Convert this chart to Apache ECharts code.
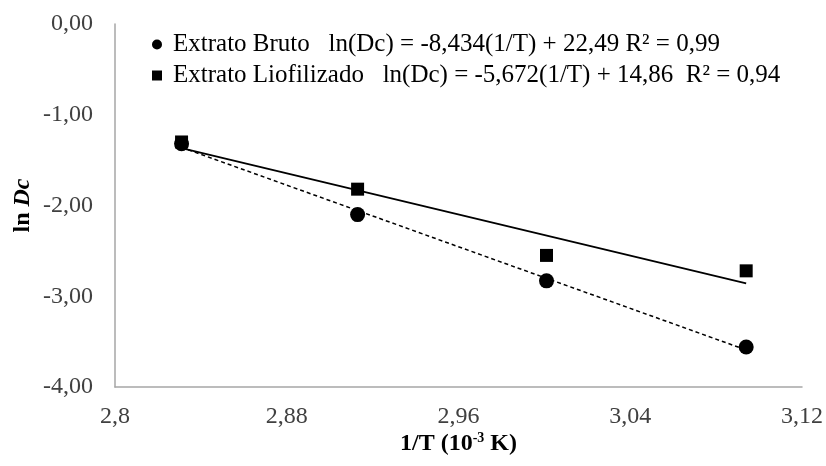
<!DOCTYPE html>
<html>
<head>
<meta charset="utf-8">
<script src="https://cdn.jsdelivr.net/npm/echarts@6/dist/echarts.min.js"></script>
<style>html,body{margin:0;padding:0;background:#fff}#c{width:826px;height:466px}</style>
</head>
<body>
<div id="c"></div>
<script>
// 1/T (10^-3 K^-1)
var invT = [2.831, 2.913, 3.001, 3.094];
var bruto = [-1.32, -2.10, -2.83, -3.56];
var liofilizado = [-1.30, -1.82, -2.55, -2.72];
var seriesNames = [
  'Extrato Bruto   ln(Dc) = -8,434(1/T) + 22,49 R\u00b2 = 0,99',
  'Extrato Liofilizado   ln(Dc) = -5,672(1/T) + 14,86  R\u00b2 = 0,94'
];
var xTicks = {min: 2.8, max: 3.12, interval: 0.08};
var yTicks = {min: -4, max: 0, interval: 1};

function fit(xs, ys) {
  var n = xs.length, mx = 0, my = 0;
  for (var i = 0; i < n; i++) { mx += xs[i]; my += ys[i]; }
  mx /= n; my /= n;
  var sxy = 0, sxx = 0;
  for (var i = 0; i < n; i++) { sxy += (xs[i]-mx)*(ys[i]-my); sxx += (xs[i]-mx)*(xs[i]-mx); }
  var b = sxy / sxx, a = my - b * mx;
  var x0 = Math.min.apply(null, xs), x1 = Math.max.apply(null, xs);
  return [[x0, a + b*x0], [x1, a + b*x1]];
}
function pairs(xs, ys) { return xs.map(function (x, i) { return [x, ys[i]]; }); }

var serif = '"Liberation Serif", "Times New Roman", serif';
var chart = echarts.init(document.getElementById('c'), null, {renderer: 'canvas'});
chart.setOption({
  animation: false,
  backgroundColor: '#fff',
  grid: {left: 115, right: 23, top: 24, bottom: 79},
  legend: {
    data: [{name: seriesNames[0], icon: 'circle'}, {name: seriesNames[1], icon: 'rect'}],
    orient: 'vertical', left: 147, top: 27, itemGap: 6,
    itemWidth: 10, itemHeight: 10,
    itemStyle: {opacity: 1},
    textStyle: {fontFamily: serif, fontSize: 25, color: '#000', padding: [0, 0, 0, 6]}
  },
  xAxis: {
    type: 'value', min: xTicks.min, max: xTicks.max, interval: xTicks.interval,
    name: '{a|1/T (10}{s|-3}{a| K)}', nameLocation: 'middle', nameGap: 44, nameMoveOverlap: false,
    nameTextStyle: {rich: {
      a: {fontFamily: serif, fontSize: 24, fontWeight: 'bold', color: '#000', lineHeight: 26},
      s: {fontFamily: serif, fontSize: 14, fontWeight: 'bold', color: '#000', verticalAlign: 'top', lineHeight: 26, padding: [0, 0, 8, 0]}
    }},
    axisLine: {show: true, onZero: false, lineStyle: {color: '#a6a6a6', width: 1.5}},
    axisTick: {show: false}, splitLine: {show: false},
    axisLabel: {fontFamily: serif, fontSize: 24, color: '#404040', margin: 18,
      formatter: function (v) { return parseFloat(v.toFixed(2)).toString().replace('.', ','); }}
  },
  yAxis: {
    type: 'value', min: yTicks.min, max: yTicks.max, interval: yTicks.interval,
    name: '{b|ln }{i|Dc}', nameLocation: 'middle', nameGap: 80, nameMoveOverlap: false,
    nameTextStyle: {rich: {
      b: {fontFamily: serif, fontSize: 24, fontWeight: 'bold', color: '#000'},
      i: {fontFamily: serif, fontSize: 24, fontWeight: 'bold', fontStyle: 'italic', color: '#000'}
    }},
    axisLine: {show: true, onZero: false, lineStyle: {color: '#a6a6a6', width: 1.5}},
    axisTick: {show: false}, splitLine: {show: false},
    axisLabel: {fontFamily: serif, fontSize: 24, color: '#404040', margin: 22,
      formatter: function (v) { return v.toFixed(2).replace('.', ','); }}
  },
  series: [
    {name: seriesNames[0], type: 'scatter', data: pairs(invT, bruto), symbol: 'circle', symbolSize: 15,
     itemStyle: {color: '#000', opacity: 1}, z: 5},
    {name: seriesNames[1], type: 'scatter', data: pairs(invT, liofilizado), symbol: 'rect', symbolSize: 13,
     itemStyle: {color: '#000', opacity: 1}, z: 5},
    {name: 'trend1', type: 'line', data: fit(invT, bruto), symbol: 'none',
     lineStyle: {color: '#000', width: 1.5, type: [4, 3]}, z: 3},
    {name: 'trend2', type: 'line', data: fit(invT, liofilizado), symbol: 'none',
     lineStyle: {color: '#000', width: 1.8, type: 'solid'}, z: 3}
  ]
});
</script>
</body>
</html>
